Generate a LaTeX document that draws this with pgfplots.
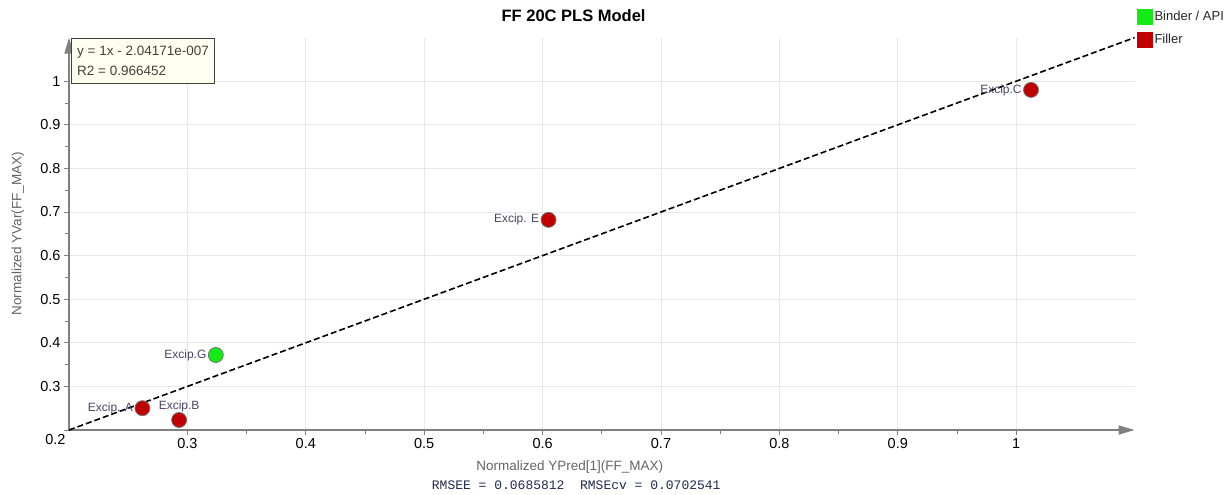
\documentclass[border=0pt]{standalone}
\usepackage{fontspec}
\setmainfont{Liberation Sans}
\setmonofont{Liberation Mono}
\usepackage{pgfplots}
\pgfplotsset{compat=1.18}
\usetikzlibrary{arrows.meta}

\definecolor{fillerred}{RGB}{192,0,0}
\definecolor{bindergreen}{RGB}{20,235,20}
\definecolor{ptlabel}{RGB}{72,68,104}
\definecolor{axisgray}{RGB}{128,128,128}
\definecolor{labelgray}{RGB}{100,100,100}
\definecolor{boxfill}{RGB}{255,255,240}
\definecolor{statnavy}{RGB}{30,42,80}

\begin{document}
\begin{tikzpicture}
\path[use as bounding box] (0pt,0pt) rectangle (1231pt,-495pt);
\begin{axis}[
  name=ax,
  at={(69pt,-430pt)}, anchor=south west,
  scale only axis,
  width=1065.6pt, height=392.4pt,
  xmin=0.2, xmax=1.1, ymin=0.2, ymax=1.1,
  axis lines=left,
  axis line style={draw=axisgray, line width=1.3pt, -{Triangle[length=16pt,width=9pt]}},
  xtick={0.3,0.4,0.5,0.6,0.7,0.8,0.9,1},
  ytick={0.3,0.4,0.5,0.6,0.7,0.8,0.9,1},
  extra y ticks={0.2},
  extra y tick style={grid=none, tick label style={yshift=-10pt, xshift=5pt}},
  minor x tick num=1, minor y tick num=1,
  tick align=outside,
  major tick length=5pt, minor tick length=4pt,
  tick style={draw=axisgray, line width=0.8pt},
  grid=major,
  major grid style={draw=gray!18, line width=0.8pt},
  tick label style={font=\fontsize{14.5}{16}\selectfont, text=black},
  /pgf/number format/assume math mode=true,
  /pgf/number format/fixed,
  xlabel={Normalized YPred[1](FF\_MAX)},
  ylabel={Normalized YVar(FF\_MAX)},
  label style={font=\fontsize{13.5}{15}\selectfont, text=labelgray},
  xlabel style={at={(axis description cs:0.470,-0.094)}, anchor=center},
  ylabel style={at={(axis description cs:-0.048,0.5)}, anchor=center},
  legend style={at={(axis description cs:1.0017,1.075)}, anchor=north west,
    draw=none, fill=none, font=\fontsize{13}{15}\selectfont,
    row sep=7pt, inner sep=0pt,
    nodes={inner sep=2.5pt, text=black!85}},
  legend cell align=left,
  clip=false,
  nodes near coords,
  point meta=explicit symbolic,
  every node near coord/.style={font=\fontsize{12}{14}\selectfont, text=ptlabel, inner sep=1pt},
]

% fitted regression line, y = 1x - 2.04171e-007
\addplot[forget plot, black, line width=1.6pt, dash pattern=on 6pt off 3pt, nodes near coords={}]
  coordinates {(0.2,0.2) (1.1,1.1)};

% Binder / API
\addplot[only marks, mark=*, mark size=7.5pt,
  mark options={fill=bindergreen, draw=black!55, line width=0.8pt},
  every node near coord/.append style={anchor=east, xshift=-8pt},
  legend image code/.code={\fill[bindergreen] (0pt,-7.5pt) rectangle (15pt,7.5pt);}]
  table[col sep=comma, row sep=\\, meta=label] {
  x,y,label\\
  0.324,0.372,Excip.G\\
  };
\addlegendentry{Binder / API}

% Filler
\addplot[only marks, mark=*, mark size=7.5pt,
  mark options={fill=fillerred, draw=black!55, line width=0.8pt},
  every node near coord/.append style={anchor=east, xshift=-8pt},
  legend image code/.code={\fill[fillerred] (0pt,-7.5pt) rectangle (15pt,7.5pt);}]
  table[col sep=comma, row sep=\\, meta=label] {
  x,y,label\\
  0.262,0.250,Excip. A\\
  0.605,0.682,Excip. E\\
  1.0125,0.980,Excip.C\\
  };
\addlegendentry{Filler}

\addplot[forget plot, only marks, mark=*, mark size=7.5pt,
  mark options={fill=fillerred, draw=black!55, line width=0.8pt},
  every node near coord/.append style={anchor=south, yshift=7pt}]
  table[col sep=comma, row sep=\\, meta=label] {
  x,y,label\\
  0.293,0.223,Excip.B\\
  };

% chart title and fit statistics
\node[font=\bfseries\fontsize{16.5}{18}\selectfont, anchor=center]
  at (axis description cs:0.4735,1.055) {FF 20C PLS Model};
\node[font=\ttfamily\fontsize{13}{15}\selectfont, text=statnavy, anchor=center]
  at (axis description cs:0.476,-0.140) {RMSEE = 0.0685812~~RMSEcv = 0.0702541};
\end{axis}

\node[anchor=north west, draw=black!75, line width=1.2pt, fill=boxfill,
  minimum width=143pt, minimum height=45pt, align=left,
  font=\fontsize{13.5}{20}\selectfont, text=black!75, inner sep=3pt, xshift=2pt]
  at (ax.north west) {y = 1x - 2.04171e-007\\R2 = 0.966452};
\end{tikzpicture}
\end{document}
